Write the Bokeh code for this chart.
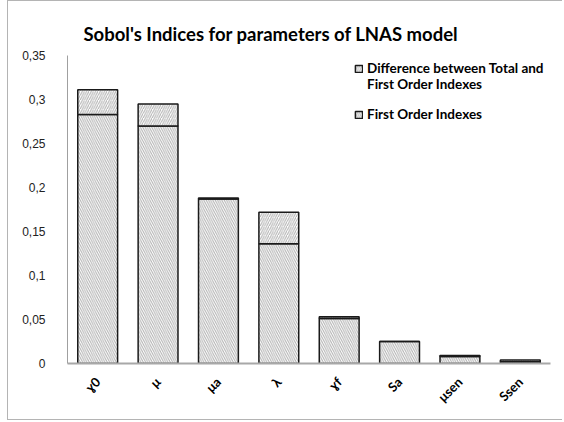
import math
from bokeh.plotting import figure
from bokeh.models import ColumnDataSource, Range1d, FactorRange, Legend, LegendItem, Title
from bokeh.embed import file_html
from bokeh.resources import INLINE

categories = ["ɣ0", "μ", "μa", "λ", "ɣf", "Sa", "μsen", "Ssen"]
first_order = [0.283, 0.270, 0.187, 0.136, 0.051, 0.025, 0.008, 0.002]
difference = [0.028, 0.025, 0.001, 0.036, 0.002, 0.000, 0.001, 0.002]
y_ticks = [0, 0.05, 0.1, 0.15, 0.2, 0.25, 0.3, 0.35]
y_tick_labels = ["0", "0,05", "0,1", "0,15", "0,2", "0,25", "0,3", "0,35"]

source = ColumnDataSource(dict(cat=categories, first=first_order, diff=difference))

p = figure(
    width=555, height=420,
    x_range=FactorRange(*categories, range_padding=0),
    y_range=Range1d(0, 0.35),
    output_backend="svg", toolbar_location=None,
    min_border_left=59, min_border_right=13, min_border_top=54, min_border_bottom=58,
)
p.styles = {"border-left": "1px solid #b4b4b4", "border-top": "1px solid #b4b4b4",
            "border-bottom": "1px solid #b4b4b4", "margin-left": "7px"}

p.title = Title(text="Sobol's Indices for parameters of LNAS model", align="left",
                offset=10, text_font="Lato", text_font_size="18.5px", text_font_style="bold",
                text_color="#000000", standoff=10, padding=6)

renderers = p.vbar_stack(
    ["first", "diff"], x="cat", width=0.66, source=source,
    fill_color="white", line_color="#1a1a1a", line_width=1.5,
    hatch_pattern=["\\", "/"], hatch_color="#b0b0b0", hatch_scale=4.5, hatch_weight=1,
)

# invisible placeholder renderer used for the legend's continuation / blank lines
blank = p.scatter(x=[], y=[], size=1, fill_alpha=0, line_alpha=0)

legend = Legend(items=[
    LegendItem(label="Difference between Total and", renderers=[renderers[1]]),
    LegendItem(label="First Order Indexes", renderers=[blank]),
    LegendItem(label=" ", renderers=[blank]),
    LegendItem(label="First Order Indexes", renderers=[renderers[0]]),
], location=(287, 241))
legend.border_line_color = None
legend.background_fill_alpha = 0
legend.label_text_font = "Lato"
legend.label_text_font_style = "bold"
legend.label_text_font_size = "13.5px"
legend.label_text_color = "#000000"
legend.glyph_width = 9
legend.glyph_height = 9
legend.label_standoff = 4
legend.spacing = 0
legend.padding = 4
legend.label_height = 14
p.add_layout(legend)

p.xgrid.visible = False
p.ygrid.visible = False
p.outline_line_color = None
p.background_fill_color = "white"

p.yaxis.ticker = y_ticks
p.yaxis.major_label_overrides = {t: l for t, l in zip(y_ticks, y_tick_labels)}
p.yaxis.major_tick_line_color = None
p.yaxis.minor_tick_line_color = None
p.yaxis.major_label_standoff = 16
p.yaxis.axis_line_color = "#a0a0a0"
p.yaxis.axis_line_width = 1
p.yaxis.major_label_text_font = "Liberation Sans"
p.yaxis.major_label_text_font_size = "12px"
p.yaxis.major_label_text_color = "#222222"

p.xaxis.major_tick_line_color = None
p.xaxis.minor_tick_line_color = None
p.xaxis.axis_line_color = "#a8a8a8"
p.xaxis.axis_line_width = 2
p.xaxis.major_label_orientation = math.pi / 4
p.xaxis.major_label_standoff = 10
p.xaxis.major_label_text_font = "Lato"
p.xaxis.major_label_text_font_style = "bold"
p.xaxis.major_label_text_font_size = "13px"
p.xaxis.major_label_text_color = "#000000"

open("out.html", "w").write(file_html(p, INLINE))
